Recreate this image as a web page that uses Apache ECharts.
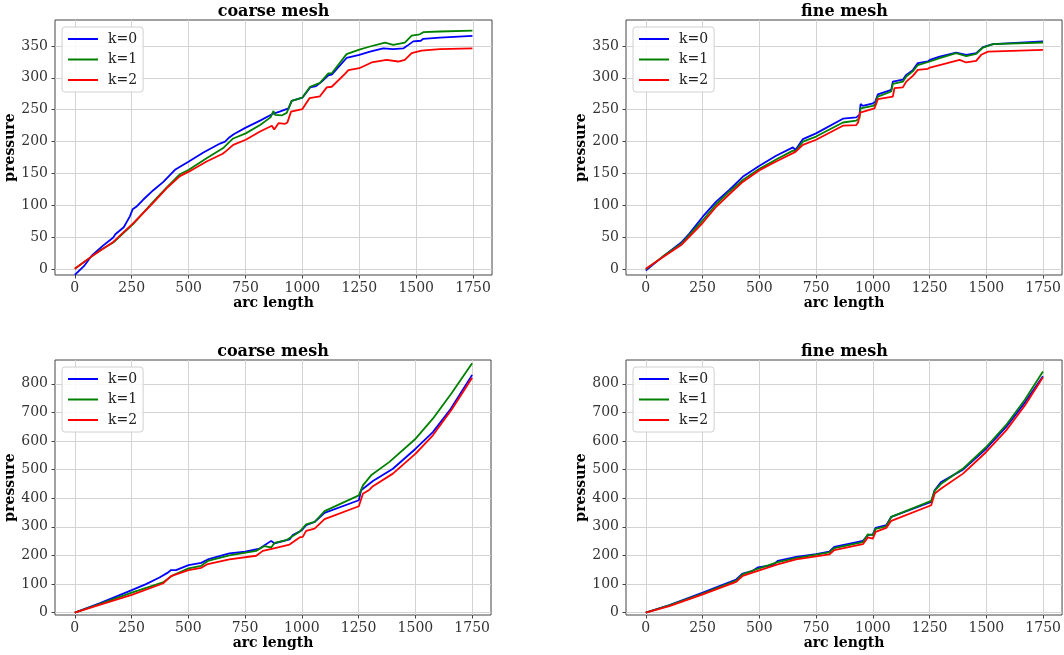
<!DOCTYPE html>
<html>
<head>
<meta charset="utf-8">
<script src="https://cdn.jsdelivr.net/npm/echarts@6/dist/echarts.min.js"></script>
<style>
  html, body { margin: 0; padding: 0; background: #fff; }
  #chart { width: 1064px; height: 655px; }
</style>
</head>
<body>
<div id="chart"></div>
<script>
// tick labels
var xTicks = [0, 250, 500, 750, 1000, 1250, 1500, 1750];
var yTicksTop = [0, 50, 100, 150, 200, 250, 300, 350];
var yTicksBottom = [0, 100, 200, 300, 400, 500, 600, 700, 800];

var names = ['k=0', 'k=1', 'k=2'];
var titles = ['coarse mesh', 'fine mesh', 'coarse mesh', 'fine mesh'];

// top row, coarse mesh: [arc length, pressure]
var coarseTopK0 = [[0,-8.5],[40,5],[73,21],[120,36],[169,50],[178,55],[185,53],[215,66],[242,83],[250,85],[254,94],[270,98],
  [300,109],[345,124],[389,137],[440,156],[501,169],[565,183],[638,197],[660,200],[680,207],[700,212],[751,222],[814,233],
  [873,244],[900,247],[939,252],[953,264],[1000,269],[1034,285],[1060,287],[1085,294],[1114,304],[1129,305],[1194,331],
  [1250,336],[1297,341],[1355,346],[1399,345],[1443,346],[1460,350],[1487,357],[1520,358],[1531,361],[1604,363],[1747,365.7]];
var coarseTopK1 = [[0,1],[73,20],[120,32],[169,42],[256,71],[345,106],[403,128],[462,149],[501,156],[579,174],[652,190],
  [675,198],[696,205],[751,213],[814,226],[860,238],[873,248],[880,242],[909,241],[931,245],[953,264],[1000,269],[1034,286],
  [1077,292],[1114,307],[1129,307],[1194,337],[1250,344],[1297,349],[1363,355],[1399,351.6],[1450,355],[1480,366],[1516,368],
  [1531,371.5],[1604,372.5],[1747,374]];
var coarseTopK2 = [[0,1],[73,20],[169,43],[256,72],[345,104.5],[403,127],[462,146],[501,153],[579,169],[650,181],[667,186],
  [696,195],[751,203],[814,216],[866,225],[870,226],[876,219],[895,229],[924,228],[934,230],[950,247],[1000,251],[1031,268],
  [1077,271],[1107,285],[1129,286],[1187,306],[1202,312],[1250,315],[1304,324],[1370,328],[1421,325.5],[1450,328],[1480,338.5],
  [1523,342.7],[1604,345],[1747,346]];

// top row, fine mesh
var fineTopK0 = [[0,-2],[75,20],[156,42],[192,56],[251,82.5],[310,106],[369,125],[427,145],[499,162],[574,178],[648,191],
  [659,187],[692,204],[750,213],[868,236],[927,238],[941,242],[946,259],[956,256],[1000,260],[1010,262],[1022,274],[1081,281],
  [1088,294],[1132,297],[1147,304.6],[1176,312],[1198,323],[1242,325.5],[1251,328],[1294,333],[1367,339.6],[1411,336],
  [1455,338.6],[1485,348],[1529,352.7],[1749,357]];
var fineTopK1 = [[0,0],[75,20],[156,40],[251,77],[310,102],[369,122],[427,140],[499,157],[574,172],[648,186],[659,185],
  [692,200],[750,208],[868,230],[927,233],[941,237],[946,252],[1000,256],[1010,258],[1022,270.6],[1081,278.5],[1088,290.5],
  [1132,294],[1147,302],[1176,310],[1198,320],[1251,325.5],[1294,330.7],[1367,338.6],[1411,334],[1455,337.5],[1485,347.4],
  [1529,352.7],[1749,355.3]];
var fineTopK2 = [[0,1],[75,19],[156,38],[251,73],[310,98],[369,118],[427,137],[499,155],[574,169],[648,182],[659,184],
  [692,195],[750,203],[868,225],[927,226],[935,230],[944,245.6],[1007,252],[1022,266.5],[1088,270.6],[1095,283.7],[1132,285],
  [1147,294],[1176,303],[1198,312.4],[1242,314],[1251,316],[1294,320],[1382,328],[1411,324],[1455,326.5],[1477,336],
  [1507,341],[1749,343.8]];

// bottom row, coarse mesh
var coarseBotK0 = [[0,0],[109,32.6],[251,79],[256,85],[314,100],[373,123],[410,140],[424,149],[446,149],[501,166],[557,174],
  [586,186],[681,207],[750,213],[814,224],[865,251],[880,242],[946,256],[960,271],[1000,288],[1019,306],[1056,317],[1100,349],
  [1251,393],[1261,428],[1313,460],[1401,503],[1501,573],[1577,631],[1651,707],[1750,831]];
var coarseBotK1 = [[0,0],[109,30],[251,70],[388,106],[432,131],[501,155],[557,164],[586,181],[681,200],[799,216],[835,233],
  [865,228],[880,244],[931,253.5],[990,282.6],[1019,309],[1056,317],[1100,355],[1251,410],[1269,445],[1305,480],[1386,527],
  [1501,608],[1577,678],[1660,768],[1750,872]];
var coarseBotK2 = [[0,0],[109,27],[251,62],[388,102],[424,128],[501,149],[557,157],[586,170],[681,186],[799,199],[828,216],
  [872,224],[946,238],[990,263],[1004,265],[1019,286],[1056,294],[1100,327],[1251,372],[1269,416],[1298,430],[1313,442],
  [1401,486],[1501,556],[1577,620],[1660,710],[1750,821]];

// bottom row, fine mesh
var fineBotK0 = [[0,0],[104,27],[251,70],[398,116],[427,137],[471,146.5],[493,158],[559,166],[581,181],[662,195],[750,205],
  [808,213],[830,230],[956,251],[978,271],[1000,274],[1012,296.5],[1059,306],[1081,335],[1257,387],[1272,428],[1301,457],
  [1397,500],[1499,573],[1587,649],[1670,735],[1749,826]];
var fineBotK1 = [[0,0],[104,26],[251,67],[398,112],[427,134],[493,153.5],[581,177],[662,191],[808,210.5],[830,225.6],
  [956,246.5],[978,274],[1000,271],[1012,293],[1059,302],[1081,335],[1257,391],[1272,425.6],[1301,451],[1397,503.5],
  [1499,579],[1587,656],[1670,745],[1749,843]];
var fineBotK2 = [[0,0],[104,23],[251,64],[398,108],[427,129],[493,146.5],[581,168.6],[662,186],[808,203.5],[830,218.6],
  [956,239.5],[978,263],[1000,259],[1012,282.6],[1059,296.5],[1081,321],[1257,375.6],[1272,416],[1301,434],[1397,486],
  [1499,561.6],[1587,637],[1670,725],[1749,823]];

var panelData = [
  [coarseTopK0, coarseTopK1, coarseTopK2],
  [fineTopK0, fineTopK1, fineTopK2],
  [coarseBotK0, coarseBotK1, coarseBotK2],
  [fineBotK0, fineBotK1, fineBotK2]
];
var colors = ['#0000ff', '#008000', '#ff0000'];

var font = 'DejaVu Serif';
var grids = [
  { left: 55, top: 20, width: 437, height: 255 },
  { left: 626, top: 20, width: 437, height: 255 },
  { left: 55, top: 360, width: 436, height: 255 },
  { left: 626, top: 360, width: 437, height: 255 }
];
var yRanges = [[-8.8, 390.5], [-8.8, 390.5], [-8, 883], [-8, 883]];

function plain(v) { return String(v); }

var option = {
  backgroundColor: '#fff',
  animation: false,
  title: [], legend: [], grid: [], xAxis: [], yAxis: [], series: []
};

grids.forEach(function (g, i) {
  option.grid.push({
    left: g.left, top: g.top, width: g.width, height: g.height,
    show: true, borderColor: '#444', borderWidth: 1, backgroundColor: 'transparent'
  });
  option.title.push({
    text: titles[i],
    left: g.left + g.width / 2, top: g.top - 16, textAlign: 'center', padding: 0,
    textStyle: { fontFamily: font, fontWeight: 'bold', fontSize: 16, color: '#000' }
  });
  option.legend.push({
    data: names, orient: 'vertical', left: g.left + 7, top: g.top + 7,
    icon: 'rect', itemWidth: 30, itemHeight: 2, itemGap: 4.5,
    padding: [4, 6, 4, 6],
    backgroundColor: 'rgba(255,255,255,0.85)', borderColor: '#d0d0d0', borderWidth: 1, borderRadius: 3,
    textStyle: { fontFamily: font, fontSize: 14, color: '#222', lineHeight: 16, padding: [0, 0, 0, 5] }
  });
  var yTicks = i < 2 ? yTicksTop : yTicksBottom;
  option.xAxis.push({
    type: 'value', gridIndex: i, min: -87, max: 1833,
    name: 'arc length', nameLocation: 'middle', nameGap: 20,
    nameTextStyle: { fontFamily: font, fontWeight: 'bold', fontSize: 14, color: '#000' },
    axisLine: { show: false, onZero: false },
    axisTick: { show: true, inside: false, length: 3.5, customValues: xTicks, lineStyle: { color: '#444' } },
    axisLabel: { customValues: xTicks, formatter: plain, margin: 6, fontFamily: font, fontSize: 14, color: '#333' },
    splitLine: { show: true, lineStyle: { color: '#d3d3d3', width: 1 } }
  });
  option.yAxis.push({
    type: 'value', gridIndex: i, min: yRanges[i][0], max: yRanges[i][1],
    name: 'pressure', nameLocation: 'middle', nameGap: 33, nameRotate: 90,
    nameTextStyle: { fontFamily: font, fontWeight: 'bold', fontSize: 14, color: '#000' },
    axisLine: { show: false, onZero: false },
    axisTick: { show: true, inside: false, length: 3.5, customValues: yTicks, lineStyle: { color: '#444' } },
    axisLabel: { customValues: yTicks, formatter: plain, margin: 7, fontFamily: font, fontSize: 14, color: '#333' },
    splitLine: { show: true, lineStyle: { color: '#d3d3d3', width: 1 } }
  });
  panelData[i].forEach(function (d, k) {
    option.series.push({
      type: 'line', name: names[k], xAxisIndex: i, yAxisIndex: i,
      data: d, showSymbol: false, symbol: 'none',
      color: colors[k],
      lineStyle: { color: colors[k], width: 1.8 }
    });
  });
});

var chart = echarts.init(document.getElementById('chart'));
chart.setOption(option);
</script>
</body>
</html>
